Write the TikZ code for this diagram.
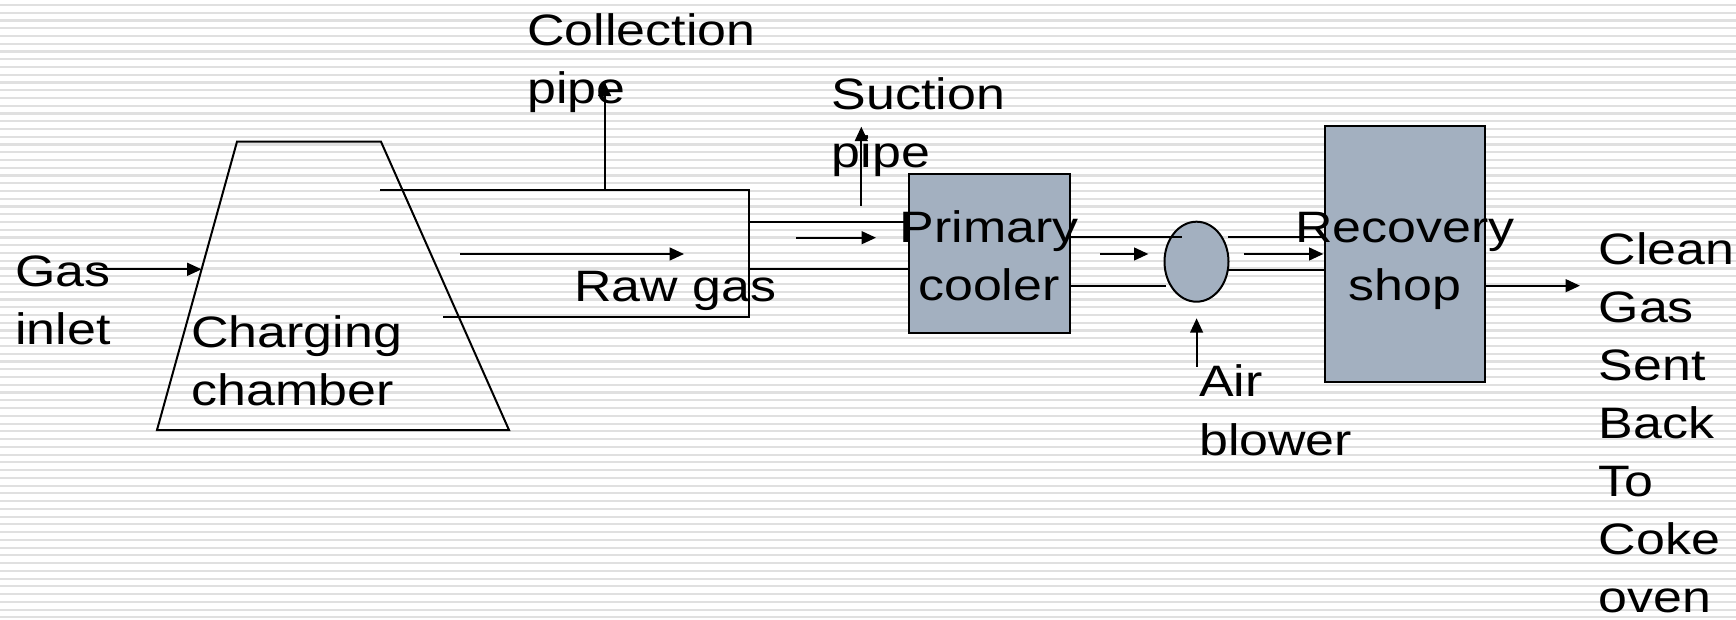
\documentclass[tikz,border=0pt]{standalone}
\usepackage{fontspec}
\setmainfont{Liberation Sans}[FakeStretch=1.18]
\usetikzlibrary{arrows.meta,shapes.geometric}
\definecolor{boxfill}{RGB}{163,176,192}
\definecolor{stripecol}{RGB}{224,224,224}
\tikzset{
  pipe/.style={line width=1pt, line cap=rect},
  flow/.style={line width=1pt, -{Triangle[length=7.2pt,width=6.4pt]}},
  unit/.style={draw, line width=1pt, fill=boxfill},
  lbl/.style={anchor=base west, inner sep=0pt, align=left, font=\fontsize{22}{29}\selectfont},
  clbl/.style={anchor=base, inner sep=0pt, align=center, font=\fontsize{22}{29}\selectfont}
}
\begin{document}
\begin{tikzpicture}[x=0.5pt,y=-0.5pt]
\useasboundingbox (0,0) rectangle (1736,620);
\fill[white] (0,0) rectangle (1736,620);
\foreach \i in {0,...,79} \fill[stripecol] (0,{4+7.75*\i}) rectangle (1736,{6.2+7.75*\i});

% ---- shapes ----
\coordinate (tl) at (237,141.7);
\coordinate (tr) at (381,141.7);
\coordinate (br) at (509,430);
\coordinate (bl) at (157,430);
\draw[pipe, line join=miter] (tl) -- (tr) -- (br) -- (bl) -- cycle;

\coordinate (cTopL) at (381,190);
\coordinate (cTopR) at (749,190);
\coordinate (cBotR) at (749,317.5);
\coordinate (cBotL) at (444,317.5);
\draw[pipe] (cTopL) -- (cTopR) -- (cBotR) -- (cBotL);

\draw[unit] (909,174) rectangle (1069.5,333.3);
\node[draw, line width=1pt, fill=boxfill, ellipse, minimum width=32pt, minimum height=40pt, inner sep=0pt] (blower) at (1196.5,261.7) {};
\draw[unit] (1324.7,125.7) rectangle (1485.3,381.7);

% ---- pipes ----
\coordinate (p1a) at (749,221.7);
\coordinate (p1b) at (909,221.7);
\coordinate (p2a) at (749,269.3);
\coordinate (p2b) at (909,269.3);
\draw[pipe] (p1a) -- (p1b);
\draw[pipe] (p2a) -- (p2b);
\coordinate (p3a) at (1069.5,237.3);
\coordinate (p3b) at (1181,237.3);
\coordinate (p4a) at (1069.5,285.7);
\coordinate (p4b) at (1164.6,285.7);
\draw[pipe] (p3a) -- (p3b);
\draw[pipe] (p4a) -- (p4b);
\coordinate (p5a) at (1228.5,237.3);
\coordinate (p5b) at (1324.7,237.3);
\coordinate (p6a) at (1228.5,270);
\coordinate (p6b) at (1324.7,270);
\draw[pipe] (p5a) -- (p5b);
\draw[pipe] (p6a) -- (p6b);

% ---- labels ----
\node[lbl] (charging) at (191,406) {Charging\\chamber};
\node[lbl] (gas) at (15,345) {Gas\\inlet};
\node[lbl] (raw) at (574,301.7) {Raw gas};
\node[lbl] (collection) at (527,104) {Collection\\pipe};
\node[lbl] (suction) at (831.4,168) {Suction\\pipe};
\node[clbl] (primary) at (989,301) {Primary\\cooler};
\node[lbl] (air) at (1198.75,455) {Air\\blower};
\node[clbl] (recovery) at (1405,301) {Recovery\\shop};
\node[lbl] (clean) at (1598.3,612) {Clean\\Gas\\Sent\\Back\\To\\Coke\\oven};

% ---- flow arrows ----
\coordinate (gasS) at (96,269.3);
\coordinate (gasE) at (201.6,269.3);
\draw[flow] (gasS) -- (gasE);
\coordinate (rawS) at (460,254);
\coordinate (rawE) at (684,254);
\draw[flow] (rawS) -- (rawE);
\coordinate (colS) at (604.6,190);
\coordinate (colE) at (604.6,81.7);
\draw[flow] (colS) -- (colE);
\coordinate (sucS) at (861.3,206);
\coordinate (sucE) at (861.3,126.7);
\draw[flow] (sucS) -- (sucE);
\coordinate (a1S) at (796,237.7);
\coordinate (a1E) at (876,237.7);
\draw[flow] (a1S) -- (a1E);
\coordinate (a2S) at (1100,254);
\coordinate (a2E) at (1148.4,254);
\draw[flow] (a2S) -- (a2E);
\coordinate (airS) at (1196.6,366.7);
\coordinate (airE) at (1196.6,318.3);
\draw[flow] (airS) -- (airE);
\coordinate (a3S) at (1243.8,254);
\coordinate (a3E) at (1323.4,254);
\draw[flow] (a3S) -- (a3E);
\coordinate (outS) at (1485.3,285.7);
\coordinate (outE) at (1580,285.7);
\draw[flow] (outS) -- (outE);
\end{tikzpicture}
\end{document}
